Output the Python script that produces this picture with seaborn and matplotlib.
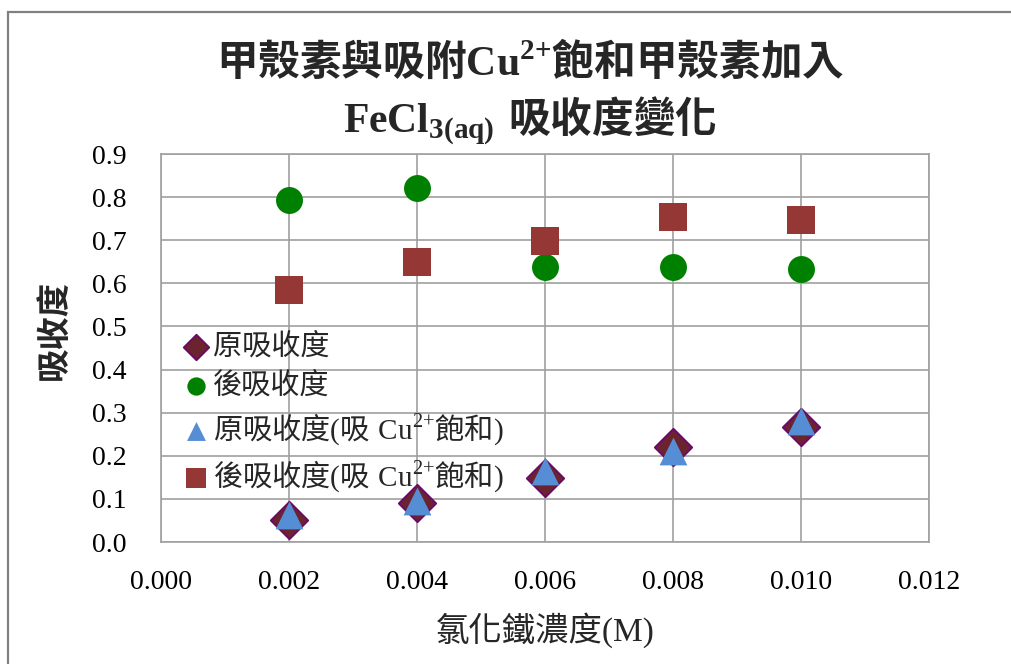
import matplotlib
matplotlib.use("Agg")
import matplotlib.pyplot as plt
from matplotlib.ticker import FormatStrFormatter
from matplotlib.patches import Rectangle
import pandas as pd
import seaborn as sns

# FeCl3 concentration (M)
conc = [0.002, 0.004, 0.006, 0.008, 0.010]
# absorbance series
orig_abs = [0.051, 0.090, 0.148, 0.220, 0.267]
after_abs = [0.794, 0.821, 0.639, 0.639, 0.633]
orig_abs_cu = [0.063, 0.096, 0.165, 0.212, 0.281]
after_abs_cu = [0.585, 0.650, 0.698, 0.754, 0.748]

# mathtext font slots: rm/bf -> CJK (regular/bold), sf/tt -> serif Latin (regular/bold)
series_labels = [
    "原吸收度",
    "後吸收度",
    r"$\mathrm{原吸收度}\mathsf{(}\mathrm{吸}\ \mathsf{Cu}^{\mathsf{2{+}}}\mathrm{飽和}\mathsf{)}$",
    r"$\mathrm{後吸收度}\mathsf{(}\mathrm{吸}\ \mathsf{Cu}^{\mathsf{2{+}}}\mathrm{飽和}\mathsf{)}$",
]
x_ticks = [0.000, 0.002, 0.004, 0.006, 0.008, 0.010, 0.012]
y_ticks = [0.0, 0.1, 0.2, 0.3, 0.4, 0.5, 0.6, 0.7, 0.8, 0.9]

title_text = (r"$\mathbf{甲殼素與吸附}\mathtt{Cu}^{\mathtt{2{+}}}\mathbf{飽和甲殼素加入}$" "\n"
              r"$\mathtt{FeCl}_{\mathtt{3(aq)}}\ \mathbf{吸收度變化}$")
x_label = "氯化鐵濃度(M)"
y_label = "吸收度"

sns.set_style("white")
plt.rcParams["font.family"] = ["Liberation Serif", "Noto Sans CJK TC"]
plt.rcParams["mathtext.fontset"] = "custom"
plt.rcParams["mathtext.rm"] = "Noto Sans CJK TC"
plt.rcParams["mathtext.bf"] = "Noto Sans CJK TC:bold"
plt.rcParams["mathtext.sf"] = "Liberation Serif"
plt.rcParams["mathtext.tt"] = "Liberation Serif:bold"
plt.rcParams["mathtext.default"] = "rm"

grid_col = "#A0A0A0"

fig = plt.figure(figsize=(10.11, 6.64), dpi=100)
ax = fig.add_axes([161 / 1011, 1 - 542 / 664, 768 / 1011, 388 / 664])

# chart-area border (left and top edges)
fig.patches.append(Rectangle((8 / 1011, -0.1), 1.2, 1 - 12 / 664 + 0.1,
                             transform=fig.transFigure, fill=False,
                             edgecolor="#808080", linewidth=1.6))

styles = [
    dict(y=orig_abs, marker="D", color="#6B2330", edgecolor="#6A0A66", s=19.0 ** 2, linewidth=1.4),
    dict(y=after_abs, marker="o", color="#008000", edgecolor="#008000", s=19.4 ** 2, linewidth=0),
    dict(y=orig_abs_cu, marker="^", color="#558ED5", edgecolor="#558ED5", s=20.0 ** 2, linewidth=0),
    dict(y=after_abs_cu, marker="s", color="#953735", edgecolor="#953735", s=20.2 ** 2, linewidth=0),
]

for lab, st in zip(series_labels, styles):
    df = pd.DataFrame({"conc": conc, "abs": st["y"]})
    sns.scatterplot(data=df, x="conc", y="abs", ax=ax, marker=st["marker"],
                    color=st["color"], edgecolor=st["edgecolor"], s=st["s"],
                    linewidth=st["linewidth"], label=lab, zorder=3)

ax.set_xlim(0, 0.012)
ax.set_ylim(0, 0.9)
ax.set_xticks(x_ticks)
ax.set_yticks(y_ticks)
ax.xaxis.set_major_formatter(FormatStrFormatter("%.3f"))
ax.yaxis.set_major_formatter(FormatStrFormatter("%.1f"))
ax.tick_params(axis="both", length=0, labelsize=20, colors="black")
ax.tick_params(axis="x", pad=20)
ax.tick_params(axis="y", pad=25)
ax.grid(True, color=grid_col, linewidth=1.2)
ax.set_axisbelow(True)
for sp in ax.spines.values():
    sp.set_color(grid_col)
    sp.set_linewidth(1.2)
ax.set_xlabel("")
ax.set_ylabel("")

fig.text(55 / 1011, 1 - 330 / 664, y_label, rotation=90, ha="center", va="center",
         fontsize=24, fontweight="bold")
fig.text(545 / 1011, 1 - 630 / 664, x_label, ha="center", va="center", fontsize=24)
fig.text(530 / 1011, 1 - 93 / 664, title_text, ha="center", va="center",
         fontsize=30, linespacing=1.3, multialignment="center")

ax.legend(loc="upper left", bbox_to_anchor=(181 / 1011, 1 - 333 / 664),
          bbox_transform=fig.transFigure, frameon=False, fontsize=21,
          markerscale=0.68, handletextpad=0.1, labelspacing=0.4,
          borderpad=0, borderaxespad=0, handlelength=1.0)

fig.savefig("out.png", dpi=100, facecolor="white")
